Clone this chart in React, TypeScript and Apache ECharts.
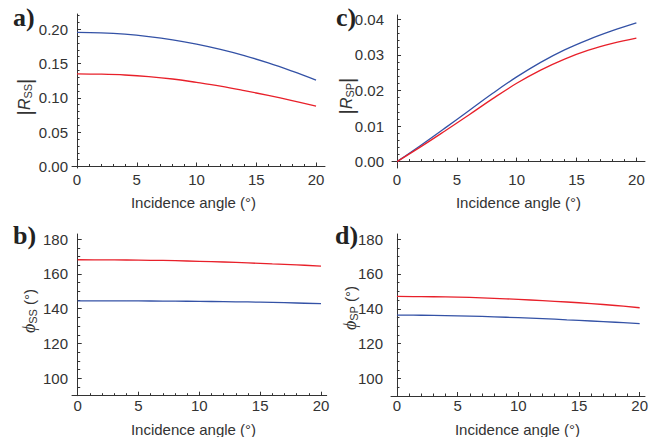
import React, { useEffect, useRef } from "react";
import * as echarts from "echarts";

const angles = [0, 2, 4, 6, 8, 10, 12, 14, 16, 18, 20];
const rssBlue = [0.1955, 0.1948, 0.1928, 0.1893, 0.1845, 0.1782, 0.1705, 0.1615, 0.151, 0.139, 0.126];
const rssRed = [0.135, 0.1345, 0.1333, 0.131, 0.1275, 0.1225, 0.117, 0.1105, 0.1035, 0.096, 0.088];
const rspBlue = [0, 0.0046, 0.0094, 0.0143, 0.0192, 0.0238, 0.0279, 0.0314, 0.0343, 0.0368, 0.039];
const rspRed = [0, 0.0042, 0.0086, 0.0131, 0.0177, 0.022, 0.0257, 0.0288, 0.0313, 0.0332, 0.0347];
const phiSSBlue = [144.5, 144.5, 144.45, 144.4, 144.3, 144.2, 144.05, 143.85, 143.6, 143.25, 142.85];
const phiSSRed = [168.1, 168.05, 167.95, 167.8, 167.55, 167.2, 166.8, 166.3, 165.7, 165.15, 164.5];
const phiSPBlue = [136.4, 136.3, 136.1, 135.8, 135.4, 134.9, 134.4, 133.7, 133.0, 132.3, 131.5];
const phiSPRed = [147.1, 147.0, 146.8, 146.5, 146.0, 145.4, 144.7, 143.9, 143.0, 141.9, 140.6];

const xTicks = [0, 5, 10, 15, 20];
const rssTicks = [0, 0.05, 0.1, 0.15, 0.2];
const rspTicks = [0, 0.01, 0.02, 0.03, 0.04];
const phiTicks = [100, 120, 140, 160, 180];

const BLUE = "#3452a6";
const RED = "#e8202a";
const AX = "#333333";
const SANS = "'Liberation Sans', Arial, sans-serif";
const SERIF = "'Liberation Serif', 'Times New Roman', serif";

export default function App() {
  const ref = useRef<HTMLDivElement>(null);
  useEffect(() => {
    document.body.style.margin = "0";
    const chart = echarts.init(ref.current!, null, { renderer: "svg" });

    const grids = [
      { left: 72, top: 14, width: 253, height: 154 },
      { left: 72, top: 234, width: 254.7, height: 161.7 },
      { left: 392, top: 15, width: 253, height: 153 },
      { left: 391, top: 234, width: 254, height: 162 },
    ];
    const xr = [
      [-0.42, 20.75],
      [-0.47, 20.47],
      [-0.42, 20.72],
      [-0.49, 20.44],
    ];
    const yr = [
      [-0.0022, 0.2222],
      [90, 182.9],
      [-0.0018, 0.0412],
      [90, 182.9],
    ];
    const yTickSets = [rssTicks, phiTicks, rspTicks, phiTicks];
    const yMinor = [5, 4, 5, 4];
    const yMargin = [4, 4, 8, 8];
    const xMargin = [4, 2, 4, 2];
    const yFmt = [
      (v: number) => v.toFixed(2),
      (v: number) => String(Math.round(v)),
      (v: number) => v.toFixed(2),
      (v: number) => String(Math.round(v)),
    ];

    const xAxis = grids.map((_, i) => ({
      gridIndex: i,
      type: "value",
      min: xr[i][0],
      max: xr[i][1],
      splitNumber: 4,
      axisLine: { show: true, lineStyle: { color: AX, width: 1 } },
      axisTick: { show: true, inside: true, length: 4, lineStyle: { color: AX }, customValues: xTicks },
      minorTick: { show: true, splitNumber: 5, length: 2.5, lineStyle: { color: AX } },
      axisLabel: {
        customValues: xTicks,
        margin: xMargin[i],
        fontSize: 15,
        fontFamily: SANS,
        color: AX,
      },
      splitLine: { show: false },
    }));

    const yAxis = grids.map((_, i) => ({
      gridIndex: i,
      type: "value",
      min: yr[i][0],
      max: yr[i][1],
      splitNumber: 4,
      axisLine: { show: true, lineStyle: { color: AX, width: 1 } },
      axisTick: { show: true, inside: true, length: 4, lineStyle: { color: AX }, customValues: yTickSets[i] },
      minorTick: { show: true, splitNumber: yMinor[i], length: 2.5, lineStyle: { color: AX } },
      axisLabel: {
        customValues: yTickSets[i],
        margin: yMargin[i],
        fontSize: 15,
        fontFamily: SANS,
        color: AX,
        formatter: yFmt[i],
      },
      splitLine: { show: false },
    }));

    const pairs = [
      [rssBlue, rssRed],
      [phiSSBlue, phiSSRed],
      [rspBlue, rspRed],
      [phiSPBlue, phiSPRed],
    ];
    const series: any[] = [];
    pairs.forEach((p, i) => {
      [BLUE, RED].forEach((c, k) => {
        series.push({
          type: "line",
          xAxisIndex: i,
          yAxisIndex: i,
          data: angles.map((a, j) => [a, p[k][j]]),
          smooth: 0.4,
          showSymbol: false,
          lineStyle: { color: c, width: 1.3 },
          itemStyle: { color: c },
        });
      });
    });

    const letter = (t: string, x: number, y: number) => ({
      type: "text",
      x,
      y,
      style: {
        text: t,
        font: `bold 26px ${SERIF}`,
        fill: "#222",
        verticalAlign: "bottom",
      },
    });

    const xName = (x: number, y: number) => ({
      type: "text",
      x,
      y,
      style: {
        text: "Incidence angle (°)",
        fontSize: 15,
        fontFamily: SANS,
        fill: AX,
        align: "center",
        verticalAlign: "middle",
      },
    });

    const richBase = {
      b: { fontSize: 21, fontFamily: SANS, fontWeight: "normal", lineHeight: 24, fill: AX },
      r: { fontSize: 16, fontFamily: SANS, fontStyle: "italic", lineHeight: 24, fill: AX },
      p: { fontSize: 18, fontFamily: SERIF, fontStyle: "italic", lineHeight: 24, fill: AX },
      s: { fontSize: 11, fontFamily: SANS, lineHeight: 11, verticalAlign: "bottom", fill: AX, padding: [0, 0, 3, 0] },
      n: { fontSize: 15, fontFamily: SANS, lineHeight: 24, fill: AX },
    };

    const yName = (text: string, x: number, y: number) => ({
      type: "text",
      x,
      y,
      rotation: Math.PI / 2,
      style: {
        text,
        rich: richBase,
        align: "center",
        verticalAlign: "middle",
        fill: AX,
      },
    });

    chart.setOption({
      animation: false,
      grid: grids.map((g) => ({ ...g, containLabel: false })),
      xAxis,
      yAxis,
      series,
      graphic: [
        letter("a)", 13, 30),
        letter("b)", 13, 248),
        letter("c)", 336, 30),
        letter("d)", 335, 248),
        xName(193.5, 202),
        xName(193.5, 429),
        xName(518.5, 202),
        xName(517.5, 429),
        yName("{b||}{r|R}{s|SS}{b||}", 24, 97),
        yName("{p|ϕ}{s|SS}{n| (°)}", 29, 311),
        yName("{b||}{r|R}{s|SP}{b||}", 346, 96),
        yName("{p|ϕ}{s|SP}{n| (°)}", 350, 308),
      ],
    });
    return () => chart.dispose();
  }, []);
  return <div ref={ref} style={{ width: 660, height: 437 }} />;
}
